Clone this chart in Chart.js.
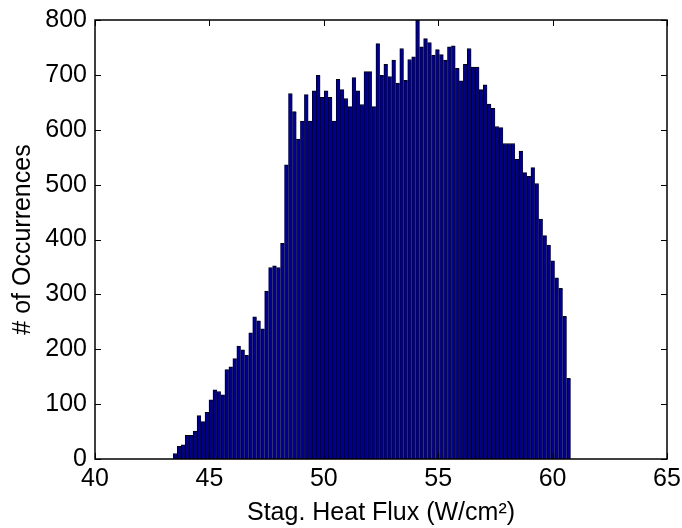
<!DOCTYPE html>
<html>
<head>
<meta charset="utf-8">
<script src="https://cdn.jsdelivr.net/npm/chart.js@4/dist/chart.umd.min.js"></script>
<style>
    body { margin: 0; background: #fff; }
</style>
</head>
<body>
<canvas id="histChart" width="682" height="528"></canvas>
<script>
// histogram bins (W/cm^2)
const binStart = 43.42;
const binWidth = 0.1737;

// counts per bin
const counts = [
    10, 23, 26, 43, 43, 51, 79, 68, 85, 108,
    126, 123, 117, 163, 168, 183, 206, 199, 189, 230,
    259, 252, 237, 306, 349, 352, 349, 393, 536, 666,
    633, 583, 616, 664, 616, 671, 699, 659, 671, 659,
    616, 692, 673, 657, 642, 695, 671, 646, 706, 706,
    642, 757, 699, 719, 697, 727, 685, 748, 690, 728,
    733, 800, 751, 766, 759, 736, 746, 737, 727, 751,
    753, 712, 689, 719, 748, 714, 714, 673, 682, 647,
    639, 606, 604, 575, 575, 575, 546, 561, 522, 515,
    531, 502, 437, 407, 390, 361, 330, 311, 260, 147
];

const xTicks = [40, 45, 50, 55, 60, 65];
const yTicks = [0, 100, 200, 300, 400, 500, 600, 700, 800];

const binCenters = counts.map((c, i) => binStart + (i + 0.5) * binWidth);

// matlab style box with inward ticks
const boxTicks = {
    id: 'boxTicks',
    afterDraw(chart) {
        const ctx = chart.ctx;
        const a = chart.chartArea;
        const xs = chart.scales.x;
        const ys = chart.scales.y;
        const len = 6;
        ctx.save();
        ctx.strokeStyle = '#000';
        ctx.lineWidth = 1;
        ctx.beginPath();
        xTicks.forEach(v => {
            const px = Math.round(xs.getPixelForValue(v)) + 0.5;
            ctx.moveTo(px, a.bottom); ctx.lineTo(px, a.bottom - len);
            ctx.moveTo(px, a.top); ctx.lineTo(px, a.top + len);
        });
        yTicks.forEach(v => {
            const py = Math.round(ys.getPixelForValue(v)) + 0.5;
            ctx.moveTo(a.left, py); ctx.lineTo(a.left + len, py);
            ctx.moveTo(a.right, py); ctx.lineTo(a.right - len, py);
        });
        ctx.stroke();
        ctx.lineWidth = 1.5;
        ctx.strokeRect(a.left, a.top, a.right - a.left, a.bottom - a.top);
        ctx.restore();
    }
};

const tickFont = { family: 'Liberation Sans, Arial, sans-serif', size: 25 };
const titleFont = { family: 'Liberation Sans, Arial, sans-serif', size: 25 };

new Chart(document.getElementById('histChart').getContext('2d'), {
    type: 'bar',
    data: {
        datasets: [{
            data: counts.map((c, i) => ({ x: binCenters[i], y: c })),
            backgroundColor: '#00008c',
            borderColor: '#000000',
            borderWidth: { left: 1, top: 1, right: 0, bottom: 0 },
            borderSkipped: false,
            barPercentage: 1,
            categoryPercentage: 1,
            grouped: false
        }]
    },
    options: {
        responsive: false,
        animation: false,
        layout: { padding: { left: 0, right: 15, top: 20, bottom: 0 } },
        plugins: {
            legend: { display: false },
            tooltip: { enabled: false }
        },
        scales: {
            x: {
                type: 'linear',
                min: 40,
                max: 65,
                offset: false,
                afterFit(scale) {
                    scale.height = 69;
                    scale.paddingLeft = 0;
                    scale.paddingRight = 0;
                },
                afterBuildTicks(scale) { scale.ticks = xTicks.map(v => ({ value: v })); },
                grid: { display: false, offset: false, drawTicks: false },
                border: { display: false },
                ticks: { font: tickFont, color: '#000', padding: 5, maxRotation: 0 },
                title: {
                    display: true,
                    text: 'Stag. Heat Flux (W/cm²)',
                    font: titleFont,
                    color: '#000',
                    padding: { top: 0, bottom: 0 }
                }
            },
            y: {
                min: 0,
                max: 800,
                afterFit(scale) {
                    scale.width = 95;
                    scale.paddingTop = 0;
                    scale.paddingBottom = 0;
                },
                afterBuildTicks(scale) { scale.ticks = yTicks.map(v => ({ value: v })); },
                grid: { display: false, drawTicks: false },
                border: { display: false },
                ticks: { font: tickFont, color: '#000', padding: 8 },
                title: {
                    display: true,
                    text: '# of Occurrences',
                    font: titleFont,
                    color: '#000',
                    padding: { top: 8, bottom: 0 }
                }
            }
        }
    },
    plugins: [boxTicks]
});
</script>
</body>
</html>
